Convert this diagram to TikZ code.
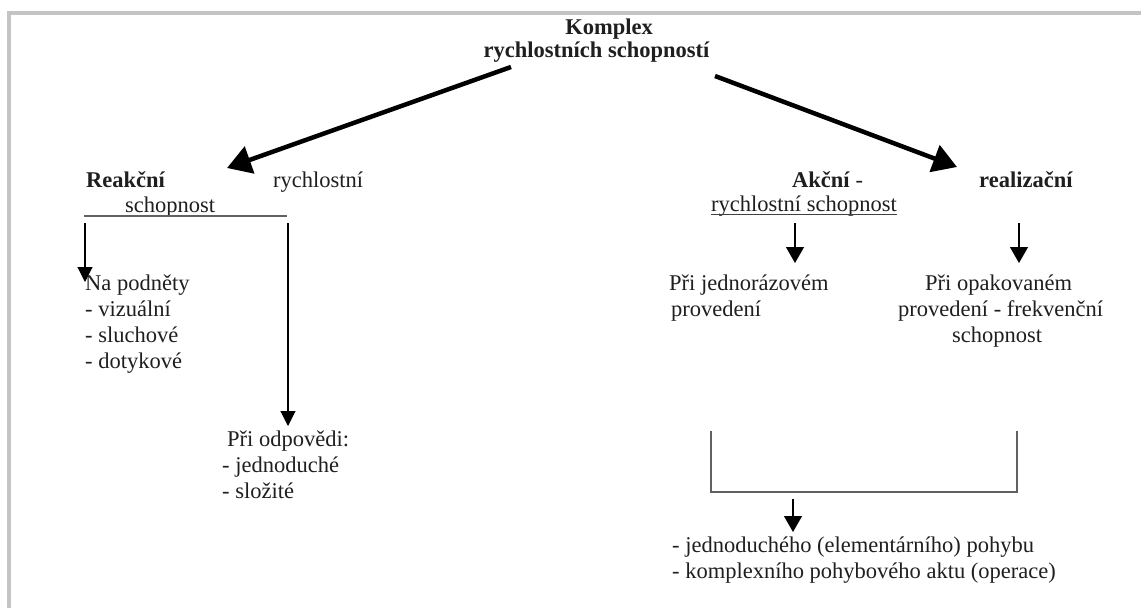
\documentclass[tikz,border=0pt]{standalone}
\usepackage{fontspec}
\setmainfont{Liberation Serif}
\usetikzlibrary{arrows.meta}
\begin{document}
\begin{tikzpicture}[x=1pt,y=-1pt,
  txt/.style={inner sep=0pt, font=\fontsize{22.5}{26}\selectfont, text=black!88},
  btxt/.style={txt, font=\fontsize{22.5}{26}\selectfont\bfseries},
  bigarrow/.style={line width=4.5pt, draw=black, -{Triangle[length=24pt,width=28pt]}},
  thinarrow/.style={line width=1.1pt, draw=black, -{Triangle[length=15pt,width=15pt]}},
  midarrow/.style={line width=1.1pt, draw=black, -{Triangle[length=16pt,width=18pt]}},
  grayline/.style={line width=1.3pt, draw=black!62},
  frameline/.style={line width=4pt, draw=black!23}]
\useasboundingbox (0,0) rectangle (1141,608);
\fill[white] (0,0) rectangle (1141,608);
% frame
\draw[frameline] (9,608) -- (9,13) -- (1141,13);

% title
\node[btxt, anchor=base] (t1) at (609,34) {Komplex};
\node[btxt, anchor=base] (t2) at (596.5,57) {rychlostních schopností};

% left branch
\node[btxt, anchor=base west] (reak) at (86,187) {Reakční};
\node[txt, anchor=base west] (rych) at (273,187) {rychlostní};
\node[txt, anchor=base west] (schop) at (125,212) {schopnost};
\node[txt, anchor=base west] (nap) at (85,290) {Na podněty};
\node[txt, anchor=base west] (viz) at (85,316) {- vizuální};
\node[txt, anchor=base west] (sluch) at (85,342) {- sluchové};
\node[txt, anchor=base west] (doty) at (85,368) {- dotykové};
\node[txt, anchor=base west] (odp) at (227,446) {Při odpovědi:};
\node[txt, anchor=base west] (jedn) at (222,472) {- jednoduché};
\node[txt, anchor=base west] (slo) at (222,498) {- složité};

% right branch
\node[btxt, anchor=base west] (akc) at (792,187) {Akční \textmd{-}};
\node[txt, anchor=base west] (rs) at (711,211) {rychlostní schopnost};
\node[btxt, anchor=base west] (real) at (979,187) {realizační};
\node[txt, anchor=base west] (pj) at (669,290) {Při jednorázovém};
\node[txt, anchor=base west] (prov1) at (671,316) {provedení};
\node[txt, anchor=base west] (po) at (925,290) {Při opakovaném};
\node[txt, anchor=base west] (prov2) at (898,316) {provedení - frekvenční};
\node[txt, anchor=base west] (schop2) at (952,342) {schopnost};
\node[txt, anchor=base west] (b1) at (672,552) {- jednoduchého (elementárního) pohybu};
\node[txt, anchor=base west] (b2) at (672,578) {- komplexního pohybového aktu (operace)};

% coordinates
\coordinate (aLs) at (511,67);
\coordinate (aLe) at (227,168);
\coordinate (aRs) at (715,76);
\coordinate (aRe) at (957,167);
\coordinate (lnL) at (84,216);
\coordinate (lnR) at (287,216);
\coordinate (v1s) at (85,223);
\coordinate (v1e) at (85,282);
\coordinate (v2s) at (288,223);
\coordinate (v2e) at (288,426);
\coordinate (v3s) at (795,223);
\coordinate (v3e) at (795,263);
\coordinate (v4s) at (1019,223);
\coordinate (v4e) at (1019,263);
\coordinate (brL) at (711,431);
\coordinate (brR) at (1017,431);
\coordinate (v5s) at (793,499);
\coordinate (v5e) at (793,532);

% big arrows
\draw[bigarrow] (aLs) -- (aLe);
\draw[bigarrow] (aRs) -- (aRe);

% lines
\draw[grayline] (lnL) -- (lnR);
\draw[line width=1pt, draw=black!75] ([yshift=-3pt]rs.base west) -- ([yshift=-3pt]rs.base east);
\draw[grayline] (brL) -- (brL |- 0,492) -- (brR |- 0,492) -- (brR);

% thin arrows
\draw[thinarrow] (v1s) -- (v1e);
\draw[thinarrow] (v2s) -- (v2e);
\draw[midarrow] (v3s) -- (v3e);
\draw[midarrow] (v4s) -- (v4e);
\draw[midarrow] (v5s) -- (v5e);
\end{tikzpicture}
\end{document}
